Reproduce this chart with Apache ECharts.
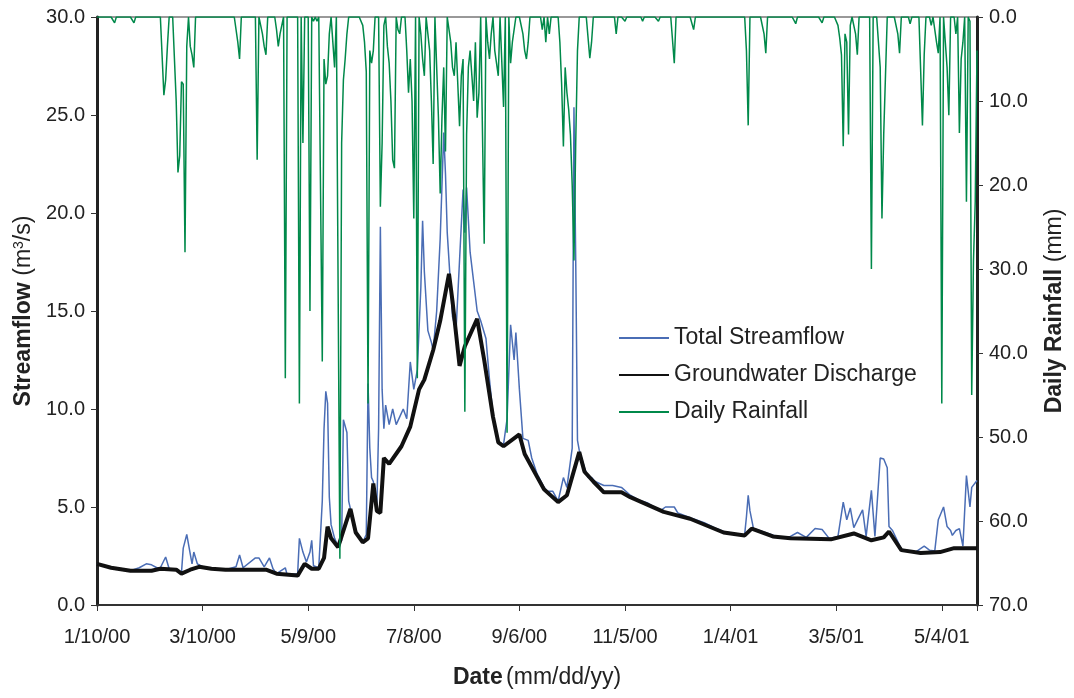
<!DOCTYPE html>
<html><head><meta charset="utf-8">
<script src="https://cdn.jsdelivr.net/npm/echarts@6/dist/echarts.min.js"></script>
<style>html,body{margin:0;padding:0;background:#fff}#c{width:1074px;height:698px}</style>
</head><body><div id="c"></div>
<script>
// x values are days since 1/10/00
const xTickLabels = ['1/10/00','3/10/00','5/9/00','7/8/00','9/6/00','11/5/00','1/4/01','3/5/01','5/4/01'];
const xTickStep = 60;
const lastDay = 500;

const totalStreamflow = [
[0,2.1],[8,1.9],[19,1.75],[24,1.9],[28,2.1],[31,2.05],[34,1.9],[36,1.9],[39,2.45],[41,1.85],
[45,1.8],[48,1.65],[49,2.9],[51,3.6],[52,3.7],[53,2.6],[54,2.1],[55,2.7],[57,2.1],[60,1.95],
[65,1.85],[73,1.8],[79,1.95],[81,2.55],[83,1.9],[90,2.4],[92,2.4],[95,1.95],[98,2.4],[100,1.85],
[102,1.6],[107,1.9],[108,1.55],[114,1.6],[115,3.4],[117,2.7],[119,2.2],[121,2.7],[122,3.3],[123,2.0],
[126,1.9],[127,3.6],[128,5.3],[129,9.0],[130,10.9],[131,10.3],[132,5.5],[133,4.1],[135,3.4],[137,3.0],
[139,3.3],[140,9.45],[142,8.8],[143,5.3],[144,4.9],[147,3.8],[151,3.2],[153,3.6],[154,11.3],[155,8.0],
[156,6.5],[157,6.3],[159,5.0],[160,9.0],[161,19.3],[162,11.0],[163,9.0],[164,10.2],[166,9.2],[168,10.0],
[170,9.2],[172,9.6],[174,10.0],[176,9.5],[178,12.4],[180,11.0],[182,12.0],[184,16.2],[185,19.6],[186,17.0],
[188,14.0],[190,13.4],[191,13.0],[193,15.0],[195,18.7],[197,24.1],[198,22.0],[199,19.0],[200,19.0],[202,14.7],
[204,14.0],[206,17.6],[208,21.2],[209,19.0],[210,21.3],[212,18.0],[214,16.5],[216,15.0],[218,14.5],[221,13.6],
[223,11.5],[225,9.7],[228,8.3],[231,8.2],[233,9.5],[235,14.3],[237,12.5],[238,13.9],[240,11.0],[242,8.5],
[245,8.4],[247,7.5],[250,6.7],[254,6.0],[256,5.8],[259,5.8],[262,5.3],[265,6.5],[267,6.0],[270,8.0],
[271,25.4],[272,17.6],[273,8.4],[274,7.9],[277,7.0],[279,6.5],[281,6.5],[283,6.3],[288,6.1],[293,6.1],
[298,6.0],[303,5.6],[308,5.35],[313,5.2],[320,4.8],[323,5.0],[328,5.0],[330,4.7],[337,4.45],[345,4.2],
[352,3.9],[356,3.75],[365,3.6],[368,3.6],[369,4.5],[370,5.6],[371,4.8],[373,3.9],[378,3.75],[383,3.6],
[388,3.45],[394,3.5],[398,3.7],[403,3.45],[408,3.9],[412,3.85],[416,3.4],[421,3.5],[424,5.25],[426,4.35],
[428,4.95],[430,3.95],[433,4.5],[435,4.85],[437,3.5],[440,5.85],[442,3.5],[445,7.5],[447,7.45],[449,7.0],
[450,4.0],[452,3.8],[457,2.85],[465,2.7],[470,3.0],[473,2.8],[476,2.75],[478,4.35],[481,5.0],[483,4.0],
[485,3.8],[486,3.55],[488,3.8],[490,3.9],[492,3.0],[494,6.6],[496,5.0],[497,6.0],[500,6.35]
];

const groundwater = [
[0,2.1],[8,1.9],[19,1.75],[31,1.75],[36,1.85],[45,1.8],[48,1.6],[53,1.8],[58,1.95],[65,1.85],
[73,1.8],[96,1.8],[102,1.6],[114,1.5],[118,2.1],[122,1.85],[126,1.85],[129,2.4],[131,4.0],[133,3.4],
[137,2.95],[144,4.9],[147,3.7],[151,3.2],[154,3.4],[157,6.2],[159,4.8],[161,4.7],[163,7.5],[166,7.2],
[173,8.1],[178,9.1],[183,11.0],[186,11.5],[191,13.0],[195,14.5],[200,16.9],[202,15.5],[206,12.2],[209,13.2],
[216,14.6],[220,12.5],[225,9.6],[228,8.3],[231,8.1],[240,8.7],[243,7.7],[250,6.55],[254,5.9],[262,5.25],
[267,5.6],[274,7.8],[277,6.8],[282,6.3],[288,5.75],[298,5.75],[303,5.5],[322,4.75],[337,4.4],[356,3.7],
[368,3.55],[372,3.9],[384,3.5],[394,3.4],[417,3.35],[430,3.65],[440,3.3],[447,3.45],[450,3.75],[457,2.8],
[468,2.65],[479,2.7],[487,2.9],[500,2.9]
];

// days with rain [day, mm]; all other days are 0 mm
const rainEvents = [
[10,0.7],[21,0.7],[38,9.3],[39,7.5],[40,3.5],[45,10],[46,18.5],[47,16.5],[48,7.7],[49,8],[50,28],[51,3.5],
[53,3.5],[54,4.5],[55,6],[80,3],[81,5],[91,17],[93,1],[94,2],[95,3.5],[96,4.5],
[102,1.5],[103,3.5],[104,2],[105,1],[107,43],[115,46],[117,15],[121,35],[123,0.5],[125,0.5],
[128,41],[129,5],[130,8],[131,7],[132,2],[135,6],[138,64.5],[139,15],[140,7.5],[141,5],[142,2],
[151,1],[152,3],[153,6.5],[154,46],[155,4],[156,5.5],[157,4],[161,22.6],[162,15],[163,1],
[165,3.5],[166,5.5],[167,10],[168,17],[169,18],[171,1.5],[172,2],[176,4],[177,9],[178,5],[179,10],[180,24],
[182,43],[184,2],[185,5],[186,7],[188,2],[189,4],[190,10],[191,17.5],[194,12],[195,21],[196,12],[197,6],[198,16],
[200,1.5],[201,3],[202,6],[203,7],[204,3],[205,8],[206,13],[207,7],[208,5],[209,47],[210,14],[211,6],[212,4],
[213,7],[214,10],[215,3],[216,12],[217,9],[220,27],[222,3],[223,5],[224,2],[226,4],[227,5.5],[228,7],
[231,10.7],[233,49.5],[235,5.5],[236,3],[237,1.5],[242,2],[243,4],[244,5],[245,3],[253,1.5],[255,3],[257,2],
[263,3],[264,8],[265,15.4],[266,6],[267,9],[268,11],[269,14],[270,20],[271,29],[272,15],[273,4],
[280,4.9],[281,3],[295,2],[300,0.5],[310,0.5],[319,0.5],[328,5.5],[339,1.5],[369,4],[370,12.9],
[379,2],[380,4.3],[397,0.8],[412,0.7],[421,1],[422,2.5],[423,4.5],[424,15.4],[425,2],[426,3],[427,14],[428,1],
[431,2],[432,4.5],[440,30],[445,6],[446,24],[447,14],[448,7],[455,2],[456,4.3],[462,0.8],[469,12.9],[470,4.5],
[474,1],[477,3],[478,4.3],[480,46],[482,3],[483,6],[484,11.7],[488,2],[490,13.8],[491,5],[492,3],[494,22],
[496,0.5],[497,45],[498,29],[499,22],[500,4]
];

const rainfall = [];
for (let d = 0; d <= lastDay; d++) rainfall.push([d, 0]);
rainEvents.forEach(function (e) { rainfall[e[0]][1] = e[1]; });

const FONT = 'Liberation Sans, Arial, sans-serif';
const TXT = '#222';
const nameRich = {
  b: {fontFamily: FONT, fontSize: 23, fontWeight: 'bold', color: TXT},
  r: {fontFamily: FONT, fontSize: 23, color: TXT},
  s: {fontFamily: FONT, fontSize: 14, color: TXT, verticalAlign: 'top'}
};

const chart = echarts.init(document.getElementById('c'), null, {renderer: 'canvas'});
chart.setOption({
  animation: false,
  backgroundColor: '#fff',
  grid: {left: 97, right: 97, top: 17, bottom: 93, show: true, borderColor: '#333', borderWidth: 1},
  legend: {
    orient: 'vertical', left: 613, top: 320, itemWidth: 50, itemHeight: 14, itemGap: 11,
    itemStyle: {opacity: 0},
    textStyle: {fontFamily: FONT, fontSize: 23, color: TXT, lineHeight: 26},
    data: ['Total Streamflow', 'Groundwater Discharge', 'Daily Rainfall']
  },
  xAxis: {
    type: 'value', min: 0, max: lastDay, interval: xTickStep,
    axisLine: {show: true, onZero: false, lineStyle: {color: '#333', width: 2}},
    axisTick: {show: true, length: 6, lineStyle: {color: '#333', width: 1}},
    axisLabel: {
      fontFamily: FONT, fontSize: 20, color: TXT, margin: 22,
      formatter: function (v) {
        const i = v / xTickStep;
        return (Number.isInteger(i) && i < xTickLabels.length) ? xTickLabels[i] : '';
      }
    },
    splitLine: {show: false},
    name: '{b|Date} {r|(mm/dd/yy)}', nameLocation: 'middle', nameGap: 61,
    nameTextStyle: {rich: nameRich}
  },
  yAxis: [{
    type: 'value', min: 0, max: 30, interval: 5, position: 'left',
    axisLine: {show: true, onZero: false, lineStyle: {color: '#222', width: 3}},
    axisTick: {show: true, length: 6, lineStyle: {color: '#333'}},
    axisLabel: {fontFamily: FONT, fontSize: 20, color: TXT, margin: 12, formatter: function (v) { return v.toFixed(1); }},
    splitLine: {show: false},
    name: '{b|Streamflow}  {r|(m}{s|3}{r|/s)}', nameLocation: 'middle', nameGap: 48, nameRotate: 90,
    nameTextStyle: {rich: nameRich}
  }, {
    type: 'value', min: 0, max: 70, interval: 10, position: 'right', inverse: true,
    axisLine: {show: true, onZero: false, lineStyle: {color: '#222', width: 3}},
    axisTick: {show: true, length: 6, lineStyle: {color: '#333'}},
    axisLabel: {fontFamily: FONT, fontSize: 20, color: TXT, margin: 12, formatter: function (v) { return v.toFixed(1); }},
    splitLine: {show: false},
    name: '{b|Daily Rainfall}  {r|(mm)}', nameLocation: 'middle', nameGap: 66, nameRotate: 90,
    nameTextStyle: {rich: nameRich}
  }],
  series: [{
    name: 'Total Streamflow', type: 'line', data: totalStreamflow, yAxisIndex: 0,
    symbol: 'none', showSymbol: false, z: 2,
    lineStyle: {color: '#4a6db5', width: 1.5}, itemStyle: {color: '#4a6db5'}
  }, {
    name: 'Groundwater Discharge', type: 'line', data: groundwater, yAxisIndex: 0,
    symbol: 'none', showSymbol: false, z: 3,
    lineStyle: {color: '#111', width: 4}, itemStyle: {color: '#111'}
  }, {
    name: 'Daily Rainfall', type: 'line', data: rainfall, yAxisIndex: 1,
    symbol: 'none', showSymbol: false, z: 4,
    lineStyle: {color: '#00894a', width: 1.5}, itemStyle: {color: '#00894a'}
  }]
});
</script>
</body></html>
